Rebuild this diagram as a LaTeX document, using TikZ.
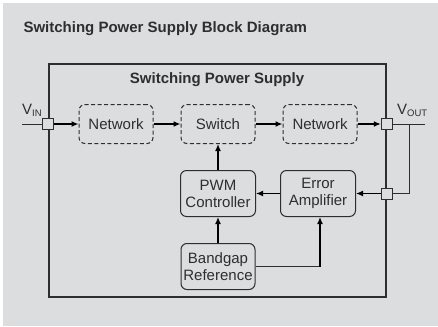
\documentclass[tikz,border=0pt]{standalone}
\usepackage{fontspec}
\setmainfont{Liberation Sans}
\usepackage{xcolor}
\usetikzlibrary{arrows.meta,positioning}
\definecolor{panel}{HTML}{DCDDDF}
\definecolor{ink}{HTML}{2E2E2E}
\newcommand{\pinlabel}[2]{#1\raisebox{-2.5pt}{\fontsize{9.5}{10}\selectfont #2}}

\begin{document}
\begin{tikzpicture}[x=1pt,y=-1pt,font=\fontsize{15}{17}\selectfont,text=ink,block/.style={rounded corners=6pt,draw=ink,line width=1pt,fill=panel,align=center,minimum width=75pt,minimum height=46pt,inner sep=1pt},dblock/.style={block,dash pattern=on 4pt off 2.5pt,minimum width=74pt,minimum height=39pt},port/.style={draw=ink,line width=1pt,fill=panel,minimum size=11pt,inner sep=0pt},arrow/.style={-{Latex[length=7pt,width=6pt]},line width=1.6pt},wire/.style={draw=ink,line width=1pt}]
\useasboundingbox (0,0) rectangle (438,326);
\fill[panel] (3,3) rectangle (438,326);
\node[anchor=west,font=\fontsize{15}{17}\selectfont\bfseries] (title) at (20,29) {Switching Power Supply Block Diagram};
\node[draw=ink,line width=1.6pt,minimum width=337pt,minimum height=233pt] (supply) at (217.5,180.5) {};
\node[font=\fontsize{15}{17}\selectfont\bfseries] (supplytitle) at (217,80) {Switching Power Supply};
% forward path
\node[dblock] (netin) at (116,124) {Network};
\node[dblock,right=27pt of netin] (switch) {Switch};
\node[dblock,right=27pt of switch] (netout) {Network};
% control loop
\node[block,below=26pt of switch] (pwm) {PWM\\Controller};
\node[block,right=24pt of pwm] (erramp) {Error\\Amplifier};
\node[block,below=26pt of pwm,minimum width=74pt] (bandgap) {Bandgap\\Reference};
% pins on the box edge
\node[port] (pin) at (supply.west |- netin) {};
\node[port] (pout) at (supply.east |- netout) {};
\node[port] (pfb) at (supply.east |- erramp) {};
\coordinate (vin) at (22,124);
\coordinate (vout) at (425,124);
\coordinate (tap) at (409,124);
\node[anchor=base west,inner sep=0pt] (vinlabel) at (22,114) {\pinlabel{V}{IN}};
\node[anchor=base west,inner sep=0pt] (voutlabel) at (397,114) {\pinlabel{V}{OUT}};
\draw[wire] (vin) -- (pin);
\draw[wire] (pout) -- (vout);
\draw[wire] (tap) |- (pfb);
\draw[arrow] (pin) -- (netin);
\draw[arrow] (netin) -- (switch);
\draw[arrow] (switch) -- (netout);
\draw[arrow] (netout) -- (pout);
\draw[arrow] (pfb) -- (erramp);
\draw[arrow] (erramp) -- (pwm);
\draw[arrow] (pwm) -- (switch);
\draw[arrow] (bandgap) -- (pwm);
\coordinate (bgturn) at ([xshift=2pt]bandgap.east -| erramp);
\draw[wire] (bandgap.east) -- (bgturn);
\draw[arrow] (bgturn) -- (bgturn |- erramp.south);
\end{tikzpicture}
\end{document}
